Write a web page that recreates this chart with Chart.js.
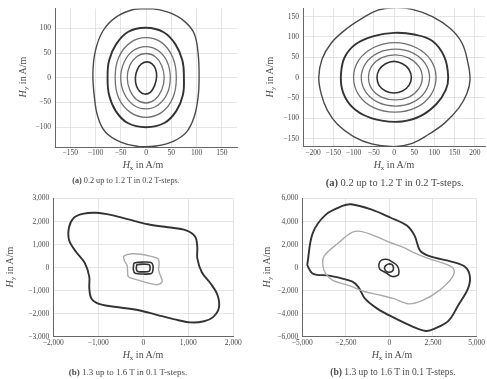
<!DOCTYPE html>
<html><head><meta charset="utf-8">
<script src="https://cdn.jsdelivr.net/npm/chart.js@4.4.1/dist/chart.umd.min.js"></script>
<style>
html,body{margin:0;padding:0;background:#fff;}
body{width:487px;height:379px;position:relative;overflow:hidden;font-family:"Liberation Serif",serif;color:#4a4a4a;}
canvas{position:absolute;}
.lab{position:absolute;white-space:nowrap;transform:translate(-50%,-50%);font-size:10px;line-height:1;}
.yl{transform:translate(-50%,-50%) rotate(-90deg);}
.sub{font-size:70%;position:relative;top:0.3em;}
.cap{position:absolute;white-space:nowrap;transform:translate(-50%,-50%);line-height:1;}
</style></head><body>
<canvas id="c1" width="245" height="162" style="left:0;top:0"></canvas>
<canvas id="c2" width="242" height="162" style="left:245px;top:0"></canvas>
<canvas id="c3" width="245" height="162" style="left:0;top:190px"></canvas>
<canvas id="c4" width="242" height="162" style="left:245px;top:190px"></canvas>

<div class="lab yl" style="left:22.7px;top:77px"><i>H</i><span class="sub">y</span> in A/m</div>
<div class="lab yl" style="left:270px;top:77px"><i>H</i><span class="sub">y</span> in A/m</div>
<div class="lab yl" style="left:9.5px;top:267px"><i>H</i><span class="sub">y</span> in A/m</div>
<div class="lab yl" style="left:266.7px;top:267px"><i>H</i><span class="sub">y</span> in A/m</div>

<div class="lab" style="left:143px;top:165px"><i>H</i><span class="sub">x</span> in A/m</div>
<div class="lab" style="left:394px;top:165px"><i>H</i><span class="sub">x</span> in A/m</div>
<div class="lab" style="left:143px;top:355px"><i>H</i><span class="sub">x</span> in A/m</div>
<div class="lab" style="left:392px;top:355px"><i>H</i><span class="sub">x</span> in A/m</div>

<div class="cap" style="left:126px;top:181px;font-size:8.2px"><b>(a)</b> 0.2 up to 1.2 T in 0.2 T-steps.</div>
<div class="cap" style="left:394.7px;top:182.5px;font-size:10.5px"><b>(a)</b> 0.2 up to 1.2 T in 0.2 T-steps.</div>
<div class="cap" style="left:128px;top:372px;font-size:9px"><b>(b)</b> 1.3 up to 1.6 T in 0.1 T-steps.</div>
<div class="cap" style="left:393px;top:372.5px;font-size:9.5px"><b>(b)</b> 1.3 up to 1.6 T in 0.1 T-steps.</div>

<script>
// ---- Panel 1: 0.2 ... 1.2 T (top-left) ----
const p1xTicks = [-150,-100,-50,0,50,100,150];
const p1yTicks = [-100,-50,0,50,100];
const p1L1 = [[21,2],[19,17],[12,28],[2,32],[-9,28],[-17,17],[-21,0],[-19,-16],[-12,-28],[-2,-33],[9,-29],[17,-16]];
const p1L2 = [[36,0],[31,25],[18,43],[0,49],[-18,43],[-32,25],[-37,0],[-32,-25],[-19,-44],[0,-51],[18,-44],[31,-25]];
const p1L3 = [[48,0],[42,32],[24,55],[0,63],[-25,55],[-43,32],[-50,0],[-43,-32],[-25,-55],[0,-63],[24,-55],[42,-32]];
const p1L4 = [[60,0],[53,41],[31,71],[0,81],[-31,71],[-54,41],[-61,0],[-54,-41],[-31,-70],[0,-80],[31,-70],[53,-41]];
const p1L5 = [[75,0],[72,35],[58,68],[35,92],[0,101],[-35,93],[-59,68],[-73,35],[-76,0],[-73,-35],[-60,-67],[-37,-91],[0,-100],[37,-91],[60,-67],[73,-35]];
const p1L6 = [[105,0],[103,50],[95,90],[75,115],[45,132],[10,140],[-25,138],[-60,122],[-85,95],[-100,55],[-105,10],[-102,-40],[-95,-80],[-80,-110],[-50,-130],[-15,-139],[20,-138],[55,-128],[80,-110],[95,-80],[103,-40]];

// ---- Panel 2: 0.2 ... 1.2 T (top-right) ----
const p2xTicks = [-200,-150,-100,-50,0,50,100,150,200];
const p2yTicks = [-150,-100,-50,0,50,100,150];
const p2L1 = [[43,0],[37,20],[21,34],[0,40],[-21,34],[-37,19],[-42,0],[-37,-19],[-21,-33],[0,-38],[21,-33],[37,-19]];
const p2L2 = [[70,0],[61,28],[37,48],[4,56],[-30,49],[-55,28],[-63,0],[-55,-28],[-31,-48],[3,-55],[37,-48],[61,-28]];
const p2L3 = [[88,0],[77,35],[46,61],[4,70],[-39,61],[-70,35],[-81,0],[-70,-35],[-39,-61],[4,-70],[46,-61],[77,-35]];
const p2L4 = [[104,0],[91,43],[54,74],[2,86],[-50,74],[-87,43],[-100,0],[-87,-43],[-50,-74],[2,-85],[54,-74],[91,-43]];
const p2L5 = [[134,0],[125,50],[95,90],[50,106],[0,110],[-50,102],[-95,82],[-122,50],[-131,10],[-128,-30],[-110,-65],[-75,-92],[-30,-106],[20,-108],[65,-95],[105,-65],[128,-30]];
const p2L6 = [[188,-5],[182,40],[168,85],[140,120],[95,150],[45,168],[0,172],[-40,166],[-80,145],[-120,118],[-155,85],[-178,45],[-186,0],[-180,-40],[-165,-80],[-140,-115],[-100,-145],[-55,-163],[0,-170],[45,-162],[85,-140],[125,-112],[160,-75],[180,-40]];

// ---- Panel 3: 1.3 ... 1.6 T (bottom-left) ----
const p3xTicks = [-2000,-1000,0,1000,2000];
const p3yTicks = [-3000,-2000,-1000,0,1000,2000,3000];
const p3L13 = [[-140,120],[0,150],[120,130],[150,50],[145,-110],[120,-170],[0,-185],[-125,-165],[-155,-60],[-150,60]];
const p3L14 = [[-200,200],[0,240],[170,220],[215,100],[210,-150],[180,-260],[0,-280],[-180,-250],[-220,-100],[-215,120]];
const p3L15 = [[-430,500],[-250,600],[-50,580],[150,500],[330,380],[350,150],[340,-100],[380,-350],[420,-620],[280,-740],[50,-640],[-150,-520],[-330,-400],[-350,-150],[-360,100],[-420,300]];
const p3L16 = [[-1650,1750],[-1550,2150],[-1350,2330],[-1050,2380],[-700,2280],[-300,2080],[100,1880],[550,1750],[950,1620],[1150,1350],[1200,900],[1200,400],[1300,-200],[1500,-700],[1650,-1200],[1680,-1750],[1550,-2150],[1350,-2330],[1050,-2380],[700,-2250],[300,-2050],[-100,-1850],[-550,-1720],[-950,-1600],[-1150,-1350],[-1200,-900],[-1200,-400],[-1300,200],[-1500,700],[-1650,1200]];

// ---- Panel 4: 1.3 ... 1.6 T (bottom-right) ----
const p4xTicks = [-5000,-2500,0,2500,5000];
const p4yTicks = [-6000,-4000,-2000,0,2000,4000,6000];
const p4L13 = [[230,0],[150,250],[-50,320],[-230,150],[-280,-80],[-180,-320],[20,-400],[200,-250]];
const p4L14 = [[-600,300],[-450,650],[-100,700],[150,500],[450,150],[550,-350],[450,-700],[100,-750],[-200,-450],[-550,-150]];
const p4L15 = [[-3750,1000],[-2900,2180],[-2150,3050],[-1650,3150],[-850,2750],[50,2180],[800,1750],[1400,1300],[2300,750],[3200,320],[3680,-100],[3600,-850],[2850,-2000],[1900,-2850],[1100,-3150],[250,-2700],[-500,-2400],[-1400,-2100],[-2350,-1550],[-3250,-1100],[-3650,-550],[-3820,200]];
const p4L16 = [[-4700,400],[-4400,3000],[-3650,4600],[-2700,5350],[-2200,5500],[-1050,5050],[50,4350],[1000,3650],[1450,2750],[1750,1500],[2300,1000],[3600,500],[4350,50],[4620,-800],[4500,-1850],[3950,-3270],[3400,-4600],[2600,-5300],[2100,-5500],[1300,-5100],[250,-4350],[-700,-3560],[-1400,-2700],[-1780,-1700],[-2150,-1200],[-3450,-700],[-4380,-540],[-4700,170]];

const DARK = '#333', MID = '#707070', OUT = '#4a4a4a', LIGHT = '#aaa';
const FONT = '"Liberation Serif", serif';
const fmt = v => (v < 0 ? '\u2212' : '') + Math.abs(v).toLocaleString('en-US');

const loopPlugin = {
  id: 'closeLoops',
  afterDatasetsUpdate(chart) {
    for (const m of chart.getSortedVisibleDatasetMetas()) {
      if (m.dataset) { m.dataset._loop = true; m.dataset._fullLoop = true; }
    }
  }
};

function makeChart(id, loops, styles, c) {
  new Chart(document.getElementById(id), {
    type: 'line',
    data: { datasets: loops.map((l, i) => ({
      data: l.map(p => ({x: p[0], y: p[1]})),
      borderColor: styles[i][0], borderWidth: styles[i][1],
      pointRadius: 0, tension: c.tension, spanGaps: true, fill: false
    })) },
    options: {
      responsive: false, animation: false, events: [],
      layout: { padding: { top: c.pt, right: c.pr, left: 0, bottom: 0 } },
      plugins: { legend: { display: false }, tooltip: { enabled: false } },
      scales: {
        x: {
          type: 'linear', min: c.xmin, max: c.xmax,
          afterBuildTicks: s => { s.ticks = c.xt.map(v => ({value: v})); },
          afterFit: s => { s.height = c.bh; },
          ticks: { callback: fmt, autoSkip: false, maxRotation: 0, padding: 2, color: '#4a4a4a', font: { family: FONT, size: 7.5 } },
          grid: { color: '#dedede', lineWidth: 0.8, drawTicks: false },
          border: { color: '#666', width: 1 }
        },
        y: {
          type: 'linear', min: c.ymin, max: c.ymax,
          afterBuildTicks: s => { s.ticks = c.yt.map(v => ({value: v})); },
          afterFit: s => { s.width = c.lw; },
          ticks: { callback: fmt, autoSkip: false, padding: 4, color: '#4a4a4a', font: { family: FONT, size: 7.5 } },
          grid: { color: '#dedede', lineWidth: 0.8, drawTicks: false },
          border: { color: '#666', width: 1 }
        }
      }
    },
    plugins: [loopPlugin]
  });
}

const stA = [[DARK,1.6],[MID,1.3],[MID,1.3],[MID,1.3],[DARK,1.9],[OUT,1.4]];
const stB = [[DARK,1.6],[DARK,1.6],[LIGHT,1.4],[DARK,1.9]];

makeChart('c1', [p1L1,p1L2,p1L3,p1L4,p1L5,p1L6], stA,
  {xmin:-180, xmax:180, ymin:-140, ymax:140, xt:p1xTicks, yt:p1yTicks, lw:55, bh:15, pt:7, pr:8, tension:0.4});
makeChart('c2', [p2L1,p2L2,p2L3,p2L4,p2L5,p2L6], stA,
  {xmin:-225, xmax:225, ymin:-170, ymax:170, xt:p2xTicks, yt:p2yTicks, lw:58, bh:15.3, pt:7, pr:2, tension:0.4});
makeChart('c3', [p3L13,p3L14,p3L15,p3L16], stB,
  {xmin:-2000, xmax:2000, ymin:-3000, ymax:3000, xt:p3xTicks, yt:p3yTicks, lw:53.3, bh:15.3, pt:7.3, pr:11.7, tension:0.35});
makeChart('c4', [p4L13,p4L14,p4L15,p4L16], stB,
  {xmin:-5000, xmax:5000, ymin:-6000, ymax:6000, xt:p4xTicks, yt:p4yTicks, lw:57.3, bh:15.3, pt:7.3, pr:4.7, tension:0.35});
</script>
</body></html>
